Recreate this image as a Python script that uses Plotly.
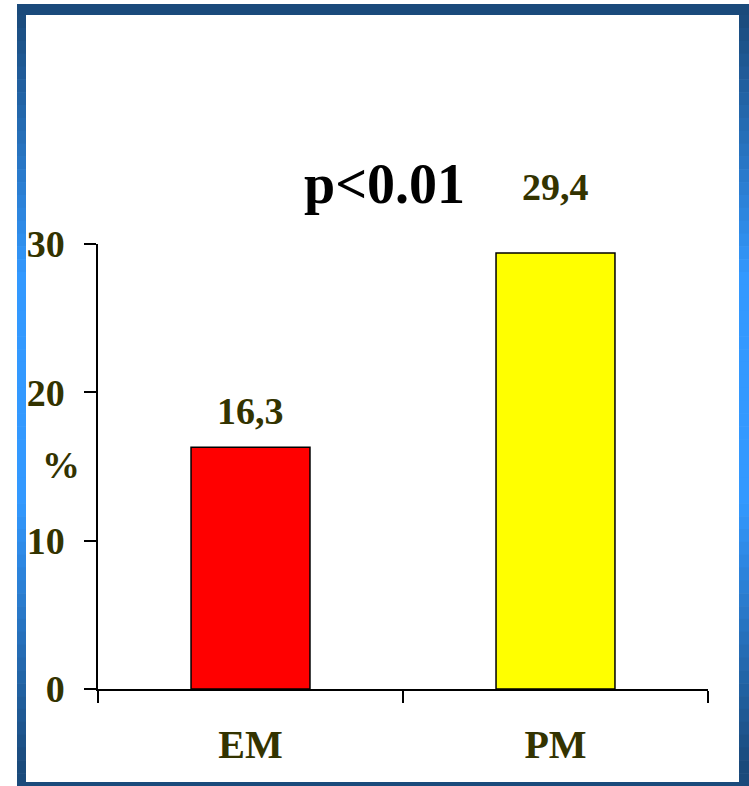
import plotly.graph_objects as go

# Data
groups = ["EM", "PM"]
percent = [16.3, 29.4]
value_labels = ["16,3", "29,4"]
y_ticks = [0, 10, 20, 30]
p_text = "p<0.01"
y_title = "%"

# Styling
bar_colors = ["#ff0000", "#ffff00"]
label_offsets = [36, 66]
text_color = "#333300"
serif = "Liberation Serif, Times New Roman, serif"

W, H = 749, 786
L, R, T, B = 98, 41, 244, 97
pw, ph = W - L - R, H - T - B


def px(x):
    return (x - L) / pw


def py(y):
    return (H - B - y) / ph


fig = go.Figure()
fig.add_trace(go.Bar(
    x=groups, y=percent,
    marker=dict(color=bar_colors, line=dict(color="black", width=1.5)),
    width=0.39, hoverinfo="skip",
))

annotations = []
for g, v, t, off in zip(groups, percent, value_labels, label_offsets):
    annotations.append(dict(
        x=g, y=v, xref="x", yref="y", text=t, showarrow=False,
        yanchor="middle", yshift=off,
        font=dict(family=serif, size=38, color=text_color, weight="bold"),
    ))
annotations.append(dict(
    x=px(384), y=py(184), xref="paper", yref="paper", text=p_text,
    showarrow=False, xanchor="center", yanchor="middle",
    font=dict(family=serif, size=56, color="black", weight="bold"),
))
annotations.append(dict(
    x=px(61), y=py(465), xref="paper", yref="paper", text=y_title,
    showarrow=False, xanchor="center", yanchor="middle",
    font=dict(family=serif, size=38, color=text_color, weight="bold"),
))

# Frame: dark blue top/bottom bands, sides with a blue gradient
dark = (0x1a, 0x4a, 0x7b)
bright = (0x33, 0x99, 0xff)


def side_color(y):
    mid = 390
    d = abs(y - mid) / (mid - 15)
    t = max(0.0, min(1.0, (d - 0.3) / 0.7))
    c = [round(b + (a - b) * t) for a, b in zip(dark, bright)]
    return "rgb(%d,%d,%d)" % tuple(c)


shapes = []
frame_top, frame_bot = 15, 786
n = 60
step = (frame_bot - frame_top) / n
for i in range(n):
    y0 = frame_top + i * step
    y1 = y0 + step + 0.6
    col = side_color(y0 + step / 2)
    for x0, x1 in ((17, 26), (739, 749)):
        shapes.append(dict(
            type="rect", xref="paper", yref="paper",
            x0=px(x0), x1=px(x1), y0=py(y1), y1=py(y0),
            fillcolor=col, line=dict(width=0), layer="below",
        ))
dark_hex = "#1a4a7b"
shapes.append(dict(type="rect", xref="paper", yref="paper",
                   x0=px(17), x1=px(749), y0=py(15), y1=py(4),
                   fillcolor=dark_hex, line=dict(width=0), layer="below"))
shapes.append(dict(type="rect", xref="paper", yref="paper",
                   x0=px(17), x1=px(749), y0=py(786), y1=py(782),
                   fillcolor=dark_hex, line=dict(width=0), layer="below"))

fig.update_layout(
    width=W, height=H,
    margin=dict(l=L, r=R, t=T, b=B),
    paper_bgcolor="white", plot_bgcolor="white",
    showlegend=False,
    annotations=annotations,
    shapes=shapes,
    xaxis=dict(
        range=[-0.5, 1.5], showline=True, linecolor="black", linewidth=1.5,
        ticks="outside", tickson="boundaries", ticklen=12, tickwidth=1.5,
        tickcolor="black", showgrid=False, zeroline=False,
        tickfont=dict(family=serif, size=40, color=text_color, weight="bold"),
        ticklabelstandoff=19,
    ),
    yaxis=dict(
        range=[0, 30], tickvals=y_ticks, showline=True, linecolor="black",
        linewidth=1.5, ticks="outside", ticklen=12, tickwidth=1.5,
        tickcolor="black", showgrid=False, zeroline=False,
        tickfont=dict(family=serif, size=38, color=text_color, weight="bold"),
        ticklabelstandoff=12,
    ),
)

fig.write_html("out.html")
